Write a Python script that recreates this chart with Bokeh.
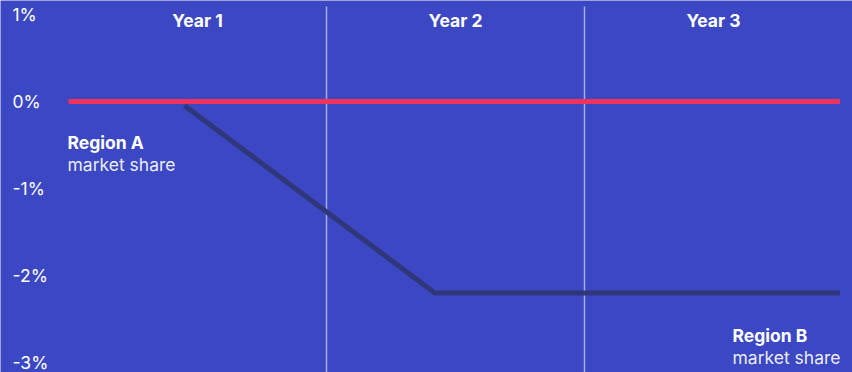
from bokeh.plotting import figure
from bokeh.models import Range1d
from bokeh.core.properties import value
from bokeh.embed import file_html
from bokeh.resources import INLINE

# ---- data ----
years = ["Year 1", "Year 2", "Year 3"]
year_centers = [0.5, 1.5, 2.5]
dividers = [1.0, 2.0]
y_ticks = [1, 0, -1, -2, -3]
y_tick_labels = ["1%", "0%", "-1%", "-2%", "-3%"]

region_a_x = [0.0, 2.99]
region_a_y = [0.0, 0.0]
region_b_x = [0.45, 1.42, 2.99]
region_b_y = [-0.05, -2.2, -2.2]

series_names = ["Region A", "Region B"]
series_sub = ["market share", "market share"]

# ---- style ----
BG = "#3C47C3"
RED = "#F0335A"
DARK = "#30367A"
FONT = value("Inter")

W, H = 852, 372
x0_px, px_per_year = 68, 258
y0_px, px_per_pct = 101, 87

p = figure(width=W, height=H, output_backend="svg", toolbar_location=None,
           x_range=Range1d(-x0_px / px_per_year, (W - x0_px) / px_per_year),
           y_range=Range1d((y0_px - H) / px_per_pct, y0_px / px_per_pct),
           min_border=0)
p.axis.visible = False
p.grid.visible = False
p.outline_line_color = None
p.background_fill_color = BG
p.border_fill_color = BG

# vertical dividers
top_y = (y0_px - 6) / px_per_pct
bot_y = (y0_px - H - 5) / px_per_pct
p.segment(x0=dividers, x1=dividers, y0=[top_y] * len(dividers), y1=[bot_y] * len(dividers),
          line_color="white", line_alpha=0.55, line_width=1.5)

# lines
p.line(region_a_x, region_a_y, line_color=RED, line_width=5)
p.line(region_b_x, region_b_y, line_color=DARK, line_width=5, line_join="miter")

# year labels
p.text(x=year_centers, y=[(y0_px - 20) / px_per_pct] * 3, text=years,
       text_font=FONT, text_font_style="bold", text_font_size="17.5px",
       text_color="white", text_align="center", text_baseline="alphabetic")

# y tick labels
p.text(x=[(12 - x0_px) / px_per_year] * len(y_ticks), y=y_ticks, text=y_tick_labels,
       text_font=FONT, text_font_size="17.5px", text_color="white",
       text_align="left", text_baseline="middle")

# series labels
a_lab_x = region_a_x[0] - 1 / px_per_year
b_lab_x = (732 - x0_px) / px_per_year
p.text(x=[a_lab_x, b_lab_x], y=[(y0_px - 142) / px_per_pct, (y0_px - 335) / px_per_pct],
       text=series_names, text_font=FONT, text_font_style="bold", text_font_size="17.5px",
       text_color="white", text_align="left", text_baseline="alphabetic")
p.text(x=[a_lab_x, b_lab_x], y=[(y0_px - 164) / px_per_pct, (y0_px - 357) / px_per_pct],
       text=series_sub, text_font=FONT, text_font_size="17.5px",
       text_color="white", text_alpha=0.92, text_align="left", text_baseline="alphabetic")

open("out.html", "w").write(file_html(p, INLINE))
